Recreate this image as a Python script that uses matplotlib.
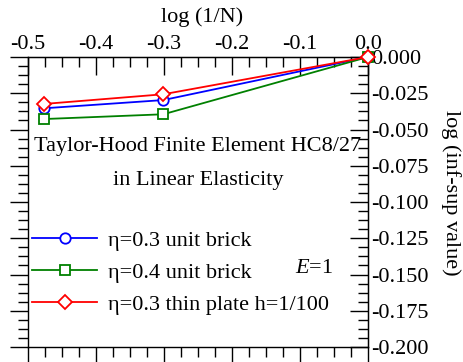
import numpy as np
import matplotlib
matplotlib.use("Agg")
import matplotlib.pyplot as plt
from matplotlib.ticker import MultipleLocator, FormatStrFormatter

# Data
x_vals = [-0.477, -0.301, 0.0]
blue_vals = [-0.0354, -0.0297, 0.0]
green_vals = [-0.0428, -0.0395, 0.0]
red_vals = [-0.0324, -0.0257, 0.0]
labels = ["\u03b7=0.3 unit brick", "\u03b7=0.4 unit brick", "\u03b7=0.3 thin plate h=1/100"]

plt.rcParams['font.family'] = ['Liberation Serif', 'DejaVu Serif']
plt.rcParams['mathtext.fontset'] = 'custom'
plt.rcParams['mathtext.it'] = 'Liberation Serif:italic'
plt.rcParams['mathtext.rm'] = 'Liberation Serif'
plt.rcParams['axes.unicode_minus'] = False
FS = 16

fig = plt.figure(figsize=(4.64, 3.62), dpi=100)
ax = fig.add_axes([28/464, 15/362, 340/464, 290/362])

ax.plot(x_vals, blue_vals, color='#0000ff', lw=1.3, marker='o', ms=7.5, mfc='white', mec='#0000ff', mew=1.3, label=labels[0], zorder=3)
ax.plot(x_vals, green_vals, color='#008000', lw=1.3, marker='s', ms=7.2, mfc='white', mec='#008000', mew=1.3, label=labels[1], zorder=3)
ax.plot(x_vals, red_vals, color='#ff0000', lw=1.3, marker='D', ms=7.5, mfc='white', mec='#ff0000', mew=1.3, label=labels[2], zorder=4)
for l in ax.lines:
    l.set_clip_on(False)

ax.set_xlim(-0.5, 0.0)
ax.set_ylim(-0.2, 0.0)

# main axis: bottom and left ticks outward, no labels
ax.xaxis.set_major_locator(MultipleLocator(0.1))
ax.xaxis.set_minor_locator(MultipleLocator(0.025))
ax.yaxis.set_major_locator(MultipleLocator(0.025))
ax.yaxis.set_minor_locator(MultipleLocator(0.00625))
ax.tick_params(axis='both', which='major', direction='out', length=13, width=1.0,
               labelbottom=False, labelleft=False)
ax.tick_params(axis='both', which='minor', direction='out', length=7, width=1.0)

# top axis: ticks inward with labels
sx = ax.secondary_xaxis('top')
sx.xaxis.set_major_locator(MultipleLocator(0.1))
sx.xaxis.set_minor_locator(MultipleLocator(0.025))
sx.xaxis.set_major_formatter(FormatStrFormatter('%.1f'))
sx.tick_params(which='major', direction='in', length=13, width=1.0, labelsize=FS, pad=2)
sx.tick_params(which='minor', direction='in', length=7, width=1.0)

# right axis: ticks inward with labels
sy = ax.secondary_yaxis('right')
sy.yaxis.set_major_locator(MultipleLocator(0.025))
sy.yaxis.set_minor_locator(MultipleLocator(0.00625))
sy.yaxis.set_major_formatter(FormatStrFormatter('%.3f'))
sy.tick_params(which='major', direction='in', length=13, width=1.0, labelsize=FS, pad=2)
sy.tick_params(which='minor', direction='in', length=7, width=1.0)

for s in ax.spines.values():
    s.set_linewidth(1.0)

fig.text(202/464, 1 - 17/362, "log (1/N)", ha='center', va='center', fontsize=FS)
fig.text(451/464, 1 - 193/362, "log (inf-sup value)", ha='center', va='center', fontsize=FS, rotation=270)

ax.text(0.5, 0.69, "Taylor-Hood Finite Element HC8/27", transform=ax.transAxes, ha='center', va='center', fontsize=FS)
ax.text(0.5, 0.575, "in Linear Elasticity", transform=ax.transAxes, ha='center', va='center', fontsize=FS)
ax.text(0.841, 0.272, "$E$=1", transform=ax.transAxes, ha='center', va='center', fontsize=FS)

ax.legend(loc='lower left', bbox_to_anchor=(0.0, 0.095), frameon=False, fontsize=FS,
          handlelength=2.9, handletextpad=0.5, labelspacing=0.52, borderaxespad=0.0,
          borderpad=0.2)

fig.savefig("out.png", dpi=100)
